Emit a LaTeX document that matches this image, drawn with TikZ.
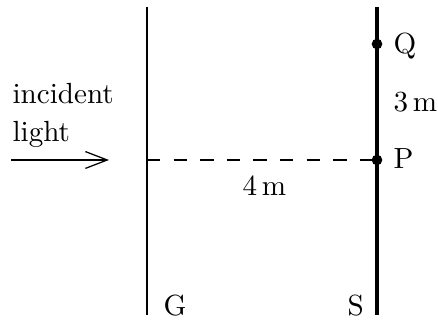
\documentclass[tikz,border=0pt]{standalone}
\usetikzlibrary{arrows.meta}
\begin{document}
\begin{tikzpicture}[x=0.357pt,y=-0.357pt,
  lbl/.style={inner sep=0pt,anchor=base west,font=\fontsize{10.4pt}{12pt}\selectfont},
  screen/.style={line width=1.2pt},
  grating/.style={line width=0.75pt},
  dotted line/.style={line width=1.05pt,dash pattern=on 4.75pt off 4.75pt},
  pt/.style={circle,fill=black,inner sep=0pt,minimum size=3.8pt}]
\useasboundingbox (0,0) rectangle (438,320);
% grating and screen
\coordinate (Gt) at (147,7);
\coordinate (Gb) at (147,315);
\coordinate (St) at (377,7);
\coordinate (Sb) at (377,315);
\draw[grating] (Gt) -- (Gb);
\draw[screen] (St) -- (Sb);
% points
\coordinate (G0) at (147,160);
\node[pt] (Q) at (377,44) {};
\node[pt] (P) at (377,160) {};
\draw[dotted line] (G0) -- (P.center);
% incident light
\coordinate (A0) at (11,160);
\coordinate (A1) at (109,160);
\draw[line width=0.4pt,-{Straight Barb[length=7.8pt,width=6pt,line width=0.45pt]}] (A0) -- (A1);
\node[lbl] (inc) at (12,104) {incident};
\node[lbl] (lig) at (12,142) {light};
% labels
\node[lbl] (lQ) at (393,54) {Q};
\node[lbl] (l3) at (393,112) {3\,m};
\node[lbl] (lP) at (393,169) {P};
\node[lbl] (l4) at (242,196) {4\,m};
\node[lbl] (lG) at (163,315) {G};
\node[lbl] (lS) at (347,315) {S};
\end{tikzpicture}
\end{document}
